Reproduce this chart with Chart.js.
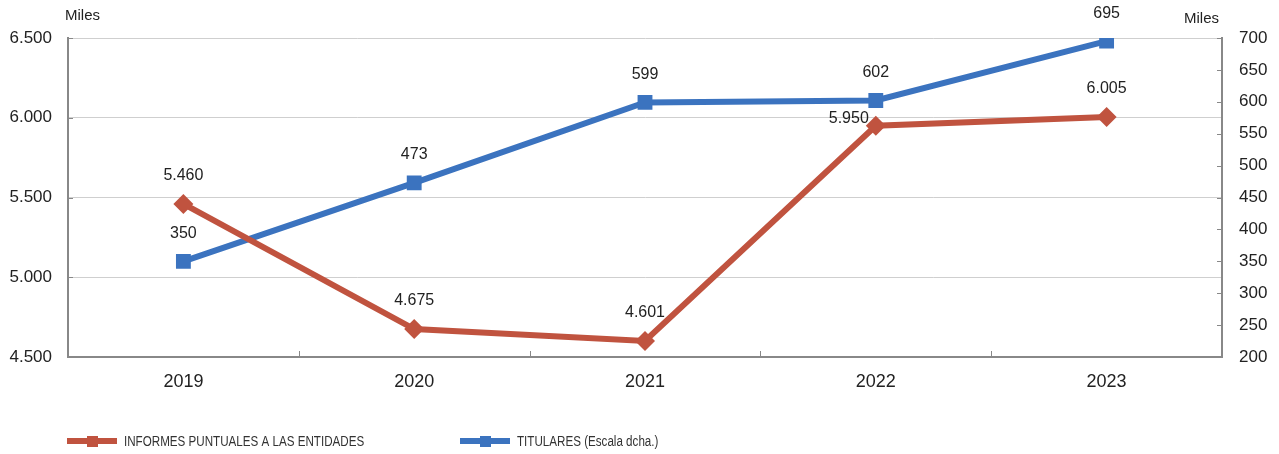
<!DOCTYPE html>
<html>
<head>
<meta charset="utf-8">
<script src="https://cdn.jsdelivr.net/npm/chart.js@4.4.1/dist/chart.umd.min.js"></script>
<style>
  html, body { margin: 0; padding: 0; background: #fff; }
  #wrap { width: 1279px; height: 454px; }
</style>
</head>
<body>
<div id="wrap"><canvas id="grafico" width="1279" height="454"></canvas></div>
<script>
const anios = ['2019', '2020', '2021', '2022', '2023'];
const informes = [5460, 4675, 4601, 5950, 6005];
const titulares = [350, 473, 599, 602, 695];
const etiquetaInformes = 'INFORMES PUNTUALES A LAS ENTIDADES';
const etiquetaTitulares = 'TITULARES (Escala dcha.)';

const ROJO = '#c0533f';
const AZUL = '#3b73bf';
const FUENTE = '"Liberation Sans", Arial, Helvetica, sans-serif';

function miles(v) {
    return String(v).replace(/\B(?=(\d{3})+(?!\d))/g, '.');
}

// marcas cortas hacia dentro en los ejes, textos "Miles", etiquetas y leyenda
const extras = {
    id: 'extras',
    afterDraw(chart) {
        const ctx = chart.ctx;
        const area = chart.chartArea;
        const sx = chart.scales.x, sy = chart.scales.y, sy1 = chart.scales.y1;
        ctx.save();
        ctx.strokeStyle = '#888';
        ctx.lineWidth = 1;
        sy.ticks.forEach(t => {
            const p = Math.round(sy.getPixelForValue(t.value)) + 0.5;
            ctx.beginPath(); ctx.moveTo(area.left, p); ctx.lineTo(area.left + 5, p); ctx.stroke();
        });
        sy1.ticks.forEach(t => {
            const p = Math.round(sy1.getPixelForValue(t.value)) + 0.5;
            ctx.beginPath(); ctx.moveTo(area.right - 5, p); ctx.lineTo(area.right, p); ctx.stroke();
        });
        const paso = sx.getPixelForValue(1) - sx.getPixelForValue(0);
        for (let i = 1; i < anios.length; i++) {
            const p = Math.round(sx.getPixelForValue(i) - paso / 2) + 0.5;
            ctx.beginPath(); ctx.moveTo(p, area.bottom); ctx.lineTo(p, area.bottom - 6); ctx.stroke();
        }

        // unidades
        ctx.fillStyle = '#222';
        ctx.font = '15px ' + FUENTE;
        ctx.textBaseline = 'middle';
        ctx.textAlign = 'left';
        ctx.fillText('Miles', 65, 16);
        ctx.textAlign = 'right';
        ctx.fillText('Miles', 1219, 19);

        // valores sobre los puntos
        ctx.font = '16px ' + FUENTE;
        ctx.textAlign = 'center';
        chart.data.datasets.forEach((ds, di) => {
            const meta = chart.getDatasetMeta(di);
            meta.data.forEach((pt, i) => {
                let dx = 0, dy = -28;
                if (ds.etiquetaIzq && ds.etiquetaIzq.includes(i)) { dx = -27; dy = -7; }
                ctx.fillText(miles(ds.data[i]), pt.x + dx, pt.y + dy);
            });
        });

        // leyenda
        const elementos = [
            { texto: etiquetaInformes, color: ROJO, x: 67 },
            { texto: etiquetaTitulares, color: AZUL, x: 460 }
        ];
        const yl = 441;
        elementos.forEach(e => {
            ctx.strokeStyle = e.color;
            ctx.lineWidth = 6;
            ctx.beginPath(); ctx.moveTo(e.x, yl); ctx.lineTo(e.x + 50, yl); ctx.stroke();
            ctx.fillStyle = e.color;
            ctx.fillRect(e.x + 20, yl - 5, 11, 11);
            ctx.fillStyle = '#333';
            ctx.font = '14px ' + FUENTE;
            ctx.textAlign = 'left';
            ctx.save();
            ctx.translate(e.x + 57, yl);
            ctx.scale(0.83, 1);
            ctx.fillText(e.texto, 0, 1);
            ctx.restore();
        });
        ctx.restore();
    }
};

new Chart(document.getElementById('grafico'), {
    type: 'line',
    data: {
        labels: anios,
        datasets: [
            {
                label: etiquetaInformes,
                data: informes,
                yAxisID: 'y',
                borderColor: ROJO,
                backgroundColor: ROJO,
                borderWidth: 6,
                pointStyle: 'rectRot',
                pointRadius: 10,
                pointBorderWidth: 0,
                tension: 0,
                etiquetaIzq: [3]
            },
            {
                label: etiquetaTitulares,
                data: titulares,
                yAxisID: 'y1',
                borderColor: AZUL,
                backgroundColor: AZUL,
                borderWidth: 6,
                pointStyle: 'rect',
                pointRadius: 10.5,
                pointBorderWidth: 0,
                tension: 0
            }
        ]
    },
    options: {
        responsive: false,
        animation: false,
        layout: { padding: { top: 38, left: 0, right: 0, bottom: 0 } },
        plugins: {
            legend: { display: false },
            tooltip: { enabled: false }
        },
        scales: {
            x: {
                offset: true,
                grid: { display: false },
                border: { color: '#888', width: 2 },
                ticks: { color: '#222', font: { size: 18, family: FUENTE }, padding: 6 },
                afterFit(s) { s.height = 97; }
            },
            y: {
                position: 'left',
                min: 4500,
                max: 6500,
                ticks: {
                    stepSize: 500,
                    color: '#222',
                    font: { size: 17, family: FUENTE },
                    padding: 16,
                    callback: v => miles(v)
                },
                grid: { color: '#cfcfcf', lineWidth: 1, drawTicks: false },
                border: { color: '#888', width: 2 },
                afterFit(s) { s.width = 68; }
            },
            y1: {
                position: 'right',
                min: 200,
                max: 700,
                ticks: {
                    stepSize: 50,
                    color: '#222',
                    font: { size: 17, family: FUENTE },
                    padding: 17
                },
                grid: { drawOnChartArea: false, drawTicks: false },
                border: { color: '#888', width: 2 },
                afterFit(s) { s.width = 57; }
            }
        }
    },
    plugins: [extras]
});
</script>
</body>
</html>
